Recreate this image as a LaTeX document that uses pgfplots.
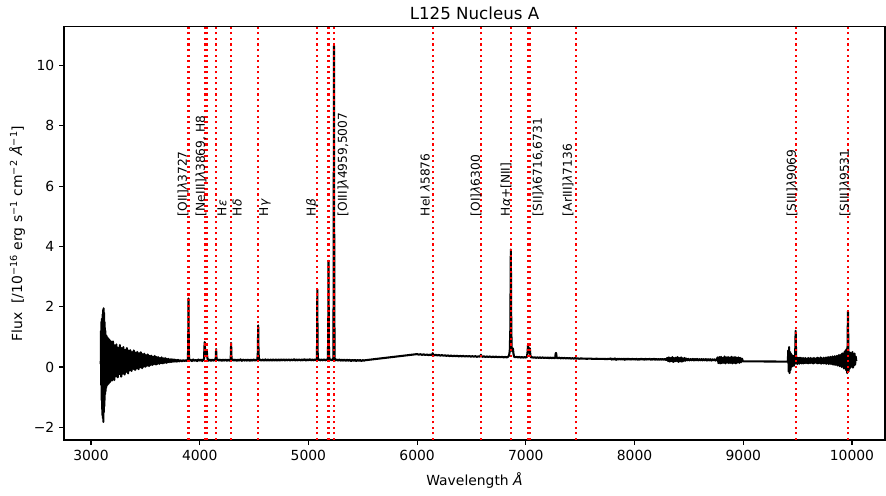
\documentclass[border=0pt]{standalone}
\usepackage{pgfplots}
\pgfplotsset{compat=1.18}
\usepackage{fontspec}
\setmainfont{DejaVu Sans}

\newcommand{\lab}[2]{\node[rotate=90, anchor=west, inner sep=0pt, font=\fontsize{8.8}{10.5}\selectfont] at (axis cs:#1,5) {#2};}

\begin{document}
\begin{tikzpicture}
\path[use as bounding box] (-46.1pt,-39.6pt) rectangle (591.8pt,316.8pt);
\begin{axis}[
  name=ax,
  at={(0,0)}, anchor=south west, scale only axis,
  width=591.1pt, height=297.4pt,
  xmin=2752, xmax=10304, ymin=-2.42, ymax=11.28,
  axis line style={line width=0.8pt},
  tick style={line width=0.8pt, black},
  tick align=outside, major tick length=3.5pt,
  xtick pos=left, ytick pos=left,
  scaled x ticks=false, scaled y ticks=false,
  xtick={3000,4000,5000,6000,7000,8000,9000,10000},
  xticklabels={3000,4000,5000,6000,7000,8000,9000,10000},
  ytick={-2,0,2,4,6,8,10},
  yticklabels={−2,0,2,4,6,8,10},
  ticklabel style={font=\fontsize{10}{12}\selectfont},
  /pgf/number format/assume math mode=true,
  xlabel={Wavelength \textit{Å}},
  xlabel style={at={(axis description cs:0.5,0)}, anchor=center, yshift=-29.5pt, inner sep=0pt, font=\fontsize{10}{12}\selectfont},
  ylabel={Flux\ \ [/10\textsuperscript{−16} erg s\textsuperscript{−1} cm\textsuperscript{−2} \textit{Å}\textsuperscript{−1}]},
  ylabel style={at={(axis description cs:-0.0572,0.5)}, anchor=center, inner sep=0pt, font=\fontsize{10}{12}\selectfont},
]
% spectrum
\addplot[black, line width=1.5pt, line join=round] coordinates {
(3090,0.1) (3092,1.2) (3094,-0.6) (3096,1.5) (3098,-1.1) (3100,1.6) (3102,-1.4) (3104,1.4)
(3106,-1.6) (3108,1.75) (3110,-1.7) (3112,1.9) (3114,-1.82) (3116,1.95) (3118,-1.5) (3120,1.8)
(3122,-1.3) (3124,1.5) (3126,-1.1) (3128,1.3) (3130,-0.9) (3132,1.2) (3134,-0.8) (3136,0.95)
(3138,-0.7) (3140,1.05) (3142,-0.65) (3144,0.9) (3146,-0.55) (3148,1.0) (3150,-0.6) (3153,0.85)
(3156,-0.4) (3159,0.95) (3162,-0.55) (3165,0.7) (3168,-0.3) (3171,0.9) (3174,-0.5) (3177,0.65)
(3180,-0.45) (3183,0.85) (3186,-0.25) (3189,0.7) (3192,-0.45) (3195,0.6) (3198,-0.3)
(3202,0.85) (3206,-0.26) (3210,0.58) (3214,-0.43) (3218,0.72) (3222,-0.14) (3226,0.62) (3230,-0.31)
(3234,0.75) (3238,-0.18) (3242,0.49) (3246,-0.34) (3250,0.64) (3254,-0.13) (3258,0.55) (3262,-0.23)
(3266,0.73) (3270,-0.17) (3274,0.51) (3278,-0.32) (3282,0.63) (3286,-0.08) (3290,0.55) (3294,-0.22)
(3298,0.66) (3302,-0.11) (3306,0.44) (3310,-0.25) (3314,0.57) (3318,-0.08) (3322,0.49) (3326,-0.16)
(3330,0.63) (3334,-0.09) (3338,0.45) (3342,-0.21) (3346,0.55) (3350,-0.01) (3354,0.47) (3358,-0.11)
(3362,0.56) (3366,-0.03) (3370,0.39) (3374,-0.13) (3378,0.5) (3382,0.0) (3386,0.43) (3390,-0.06)
(3394,0.55) (3398,-0.02) (3402,0.4) (3406,-0.1) (3410,0.48) (3414,0.04) (3418,0.43) (3422,-0.05)
(3426,0.5) (3430,0.02) (3434,0.36) (3438,-0.07) (3442,0.45) (3446,0.04) (3450,0.4) (3454,-0.01)
(3458,0.49) (3462,0.03) (3466,0.37) (3470,-0.04) (3474,0.43) (3478,0.07) (3482,0.38) (3486,0.01)
(3490,0.44) (3494,0.06) (3498,0.32) (3502,0.01) (3506,0.39) (3510,0.08) (3514,0.35) (3518,0.05)
(3522,0.42) (3526,0.07) (3530,0.33) (3534,0.03) (3538,0.37) (3542,0.11) (3546,0.34) (3550,0.07)
(3554,0.38) (3558,0.1) (3562,0.29) (3566,0.07) (3570,0.34) (3574,0.12) (3578,0.31) (3582,0.1)
(3586,0.37) (3590,0.11) (3594,0.3) (3598,0.08) (3602,0.33) (3606,0.14) (3610,0.3) (3614,0.11)
(3618,0.33) (3622,0.14) (3626,0.27) (3630,0.11) (3634,0.3) (3638,0.14) (3642,0.28) (3646,0.13)
(3650,0.32) (3654,0.14) (3658,0.27) (3662,0.12) (3666,0.29) (3670,0.16) (3674,0.27) (3678,0.14)
(3682,0.3) (3686,0.16) (3690,0.25) (3694,0.14) (3698,0.27) (3704,0.16)
(3712,0.27) (3718,0.16) (3724,0.25) (3730,0.17)
(3736,0.26) (3742,0.17) (3748,0.25) (3756,0.18) (3764,0.25) (3772,0.18) (3780,0.24) (3790,0.18)
(3800,0.24) (3812,0.19) (3824,0.23) (3836,0.19) (3848,0.23) (3860,0.2) (3872,0.23) (3884,0.2)
(3890,0.22) (3894,0.6) (3897,2.28) (3900,0.5) (3904,0.21)
(3916,0.245) (3928,0.2) (3940,0.25) (3952,0.205) (3964,0.24) (3976,0.2) (3988,0.25) (4000,0.21)
(4012,0.245) (4024,0.2) (4034,0.25) (4040,0.27) (4043,0.6) (4046,0.83) (4049,0.6) (4053,0.4)
(4058,0.36) (4062,0.42) (4066,0.52) (4069,0.35) (4073,0.26) (4080,0.21) (4092,0.25) (4104,0.205)
(4116,0.245) (4128,0.21) (4140,0.25) (4147,0.24) (4149,0.4) (4151,0.6) (4153,0.4) (4156,0.23)
(4166,0.25) (4178,0.21) (4190,0.25) (4202,0.205) (4214,0.245) (4226,0.21) (4238,0.25) (4250,0.205)
(4262,0.245) (4274,0.21) (4284,0.24) (4287,0.45) (4289,0.8) (4291,0.45) (4294,0.22) (4304,0.25)
(4316,0.21) (4328,0.25) (4340,0.205) (4352,0.245) (4364,0.21) (4376,0.255) (4388,0.205) (4400,0.25)
(4412,0.21) (4424,0.245) (4436,0.21) (4448,0.25) (4460,0.205) (4472,0.245) (4484,0.21) (4496,0.25)
(4508,0.215) (4520,0.245) (4530,0.22) (4535,0.5) (4538,1.38) (4541,0.5) (4546,0.23) (4556,0.25)
(4568,0.21) (4580,0.25) (4592,0.21) (4604,0.255) (4616,0.21) (4628,0.25) (4640,0.215) (4652,0.25)
(4664,0.21) (4676,0.255) (4688,0.215) (4700,0.25) (4712,0.21) (4724,0.255) (4736,0.215) (4748,0.25)
(4760,0.22) (4772,0.255) (4784,0.215) (4796,0.25) (4808,0.22) (4820,0.255) (4832,0.215) (4844,0.25)
(4856,0.22) (4868,0.26) (4880,0.215) (4892,0.25) (4904,0.22) (4916,0.255) (4928,0.215) (4940,0.25)
(4952,0.22) (4964,0.26) (4976,0.215) (4988,0.25) (5000,0.22) (5012,0.26) (5024,0.22) (5036,0.25)
(5048,0.22) (5060,0.255) (5070,0.225) (5077,0.25) (5080,0.8) (5082,2.58) (5084,0.7) (5087,0.24)
(5096,0.255) (5108,0.22) (5120,0.25) (5132,0.22) (5144,0.255) (5156,0.22) (5168,0.25) (5178,0.23)
(5182,0.9) (5185,3.52) (5188,0.8) (5192,0.24) (5202,0.255) (5214,0.22) (5224,0.25) (5229,0.3)
(5232,2.6) (5235,10.66) (5238,2.4) (5241,0.3) (5248,0.22) (5260,0.25) (5272,0.215) (5284,0.25)
(5296,0.21) (5308,0.245) (5320,0.21) (5332,0.25) (5344,0.205) (5356,0.245) (5368,0.21) (5380,0.24)
(5392,0.2) (5404,0.24) (5416,0.205) (5428,0.24) (5440,0.2) (5452,0.235) (5464,0.205) (5476,0.235)
(5488,0.2) (5500,0.23) (5512,0.21) (5520,0.225)
(5990,0.425) (6000,0.43) (6015,0.41) (6030,0.425) (6045,0.405) (6060,0.42) (6075,0.4) (6090,0.415)
(6105,0.395) (6120,0.41) (6132,0.395) (6140,0.43) (6143,0.46) (6147,0.42) (6158,0.39) (6172,0.405)
(6186,0.385) (6200,0.4) (6214,0.38) (6228,0.395) (6242,0.375) (6256,0.39) (6270,0.37) (6284,0.385)
(6298,0.365) (6312,0.38) (6326,0.36) (6340,0.375) (6354,0.36) (6368,0.375) (6382,0.355) (6396,0.37)
(6410,0.355) (6424,0.37) (6438,0.35) (6452,0.365) (6466,0.35) (6480,0.365) (6494,0.345) (6508,0.36)
(6522,0.345) (6536,0.36) (6550,0.34) (6564,0.355) (6578,0.345) (6584,0.38) (6587,0.41) (6590,0.37)
(6600,0.34) (6614,0.355) (6628,0.335) (6642,0.35) (6656,0.335) (6670,0.35) (6684,0.33) (6698,0.345)
(6712,0.33) (6726,0.345) (6740,0.325) (6754,0.34) (6768,0.325) (6782,0.34) (6796,0.32) (6810,0.335)
(6824,0.32) (6836,0.34) (6845,0.38) (6852,0.52) (6857,1.2) (6862,3.9) (6866,1.3) (6870,0.6)
(6876,0.52) (6881,0.62) (6886,0.45) (6892,0.34) (6904,0.325) (6916,0.34) (6928,0.32) (6940,0.335)
(6952,0.315) (6964,0.33) (6976,0.315) (6988,0.33) (7000,0.315) (7010,0.34) (7016,0.5) (7020,0.72)
(7024,0.6) (7028,0.48) (7033,0.58) (7037,0.62) (7041,0.42) (7047,0.32) (7058,0.325) (7070,0.31)
(7082,0.325) (7094,0.305) (7106,0.32) (7118,0.305) (7130,0.32) (7142,0.3) (7154,0.32) (7166,0.3)
(7178,0.315) (7190,0.3) (7202,0.315) (7214,0.295) (7226,0.315) (7238,0.295) (7250,0.31) (7262,0.295)
(7270,0.3) (7274,0.44) (7277,0.47) (7280,0.43) (7284,0.3) (7296,0.295) (7308,0.31) (7320,0.29)
(7332,0.305) (7344,0.29) (7356,0.305) (7368,0.285) (7380,0.3) (7392,0.285) (7404,0.3) (7416,0.28)
(7428,0.295) (7440,0.28) (7452,0.295) (7464,0.28) (7476,0.29) (7490,0.275) (7505,0.285)
(7530,0.28) (7560,0.275) (7590,0.28) (7620,0.27) (7650,0.275) (7680,0.27) (7710,0.27) (7740,0.265)
(7770,0.27) (7780,0.285) (7790,0.245) (7800,0.28) (7810,0.25) (7820,0.285) (7830,0.24) (7840,0.275)
(7850,0.25) (7860,0.28) (7870,0.245) (7880,0.275) (7890,0.25) (7900,0.28) (7910,0.24) (7920,0.275)
(7930,0.245) (7940,0.28) (7950,0.25) (7960,0.27) (7970,0.245) (7980,0.275) (7990,0.25) (8000,0.27)
(8010,0.245) (8020,0.275) (8030,0.24) (8040,0.27) (8050,0.245) (8060,0.275) (8070,0.25) (8080,0.27)
(8090,0.24) (8100,0.275) (8110,0.245) (8120,0.27) (8130,0.25) (8140,0.275) (8150,0.24) (8160,0.27)
(8170,0.245) (8180,0.275) (8190,0.24) (8200,0.27) (8210,0.245) (8220,0.265) (8230,0.24) (8240,0.27)
(8250,0.245) (8260,0.265) (8270,0.24) (8280,0.27) (8290,0.235)
(8300,0.3) (8308,0.2) (8316,0.32) (8324,0.18) (8332,0.3) (8340,0.2) (8348,0.33) (8356,0.17)
(8364,0.3) (8372,0.19) (8380,0.31) (8388,0.2) (8396,0.33) (8404,0.17) (8412,0.3) (8420,0.19)
(8428,0.32) (8436,0.18) (8444,0.29) (8452,0.2) (8460,0.3) (8468,0.21) (8476,0.28)
(8486,0.225) (8496,0.27) (8506,0.22) (8516,0.265) (8526,0.225) (8536,0.27) (8546,0.22) (8556,0.265)
(8566,0.225) (8576,0.27) (8586,0.22) (8596,0.26) (8606,0.225) (8616,0.265) (8626,0.22) (8636,0.26)
(8646,0.225) (8656,0.265) (8666,0.215) (8676,0.26) (8686,0.22) (8696,0.26) (8706,0.215) (8716,0.255)
(8726,0.22) (8736,0.255) (8746,0.215) (8756,0.26)
(8764,0.32) (8772,0.13) (8780,0.33) (8788,0.12) (8796,0.34) (8804,0.13) (8812,0.3) (8820,0.14)
(8828,0.35) (8836,0.12) (8844,0.32) (8852,0.15) (8860,0.33) (8868,0.13) (8876,0.31) (8884,0.14)
(8892,0.34) (8900,0.12) (8908,0.32) (8916,0.14) (8924,0.33) (8932,0.12) (8940,0.31) (8948,0.15)
(8956,0.32) (8964,0.14) (8972,0.3) (8980,0.16) (8988,0.28) (8996,0.2) (9000,0.19)
(9410,0.18)
(9414,0.55) (9418,-0.15) (9422,0.66) (9426,-0.2) (9430,0.5) (9434,-0.1) (9438,0.45) (9442,0.0)
(9446,0.4) (9450,0.02) (9454,0.38) (9458,0.05) (9462,0.36) (9466,0.04) (9470,0.38) (9474,0.1)
(9478,0.5) (9480,0.9) (9482,1.2) (9484,0.8) (9487,0.2) (9491,0.32) (9496,0.1) (9501,0.3)
(9506,0.12) (9511,0.3) (9516,0.11) (9521,0.31) (9526,0.14) (9531,0.3) (9536,0.12) (9541,0.29)
(9546,0.13) (9551,0.3) (9556,0.12) (9561,0.28) (9566,0.14) (9571,0.3) (9576,0.13) (9581,0.27)
(9586,0.14) (9591,0.29) (9596,0.12) (9601,0.3) (9606,0.14) (9611,0.28) (9616,0.13) (9621,0.3)
(9626,0.15) (9631,0.27) (9636,0.13) (9641,0.29) (9646,0.12) (9651,0.3) (9656,0.14) (9661,0.27)
(9666,0.15) (9671,0.29) (9676,0.13) (9681,0.31) (9686,0.12) (9691,0.3) (9696,0.14) (9701,0.28)
(9706,0.13) (9711,0.32) (9716,0.11) (9721,0.3) (9726,0.14) (9731,0.28) (9736,0.12) (9741,0.31)
(9746,0.13) (9751,0.29) (9756,0.12) (9761,0.32) (9766,0.11) (9771,0.3) (9776,0.13) (9781,0.33)
(9786,0.1) (9791,0.31) (9796,0.12) (9801,0.34) (9806,0.1) (9811,0.3) (9816,0.11) (9821,0.35)
(9826,0.08) (9831,0.33) (9836,0.1) (9841,0.36) (9846,0.07) (9851,0.34) (9856,0.09) (9861,0.37)
(9866,0.05) (9871,0.35) (9876,0.07) (9881,0.4) (9886,0.03) (9891,0.38) (9896,0.05) (9901,0.42)
(9906,0.0) (9911,0.45) (9916,0.02) (9921,0.43) (9926,-0.05) (9931,0.5) (9936,0.0) (9941,0.55)
(9946,-0.1) (9951,0.6) (9956,-0.2) (9960,0.9) (9963,1.85) (9966,0.9) (9969,-0.15) (9974,0.5)
(9979,-0.05) (9984,0.48) (9989,0.0) (9994,0.45) (9999,0.02) (10004,0.5) (10009,-0.02) (10014,0.42)
(10019,0.05) (10024,0.45) (10029,0.08) (10034,0.35) (10040,0.2)
};
% emission line markers
\pgfplotsinvokeforeach{3897,4045,4066,4151,4289,4538,5082,5185,5235,6143,6587,6862,7022,7037,7461,9482,9965}{
  \addplot[red, line width=1.5pt, dash pattern=on 1.5pt off 2.5pt] coordinates {(#1,-2.42) (#1,11.28)};
}
\lab{3847}{[OII]\textit{λ}3727}
\lab{4012}{[NeIII]\textit{λ}3869, H8}
\lab{4205}{H\textit{ε}}
\lab{4344}{H\textit{δ}}
\lab{4601}{H\textit{γ}}
\lab{5034}{H\textit{β}}
\lab{5319}{[OIII]\textit{λ}4959,5007}
\lab{6073}{HeI \textit{λ}5876}
\lab{6542}{[OI]\textit{λ}6300}
\lab{6818}{H\textit{α}+[NII]}
\lab{7113}{[SII]\textit{λ}6716,6731}
\lab{7389}{[ArIII]\textit{λ}7136}
\lab{9449}{[SIII]\textit{λ}9069}
\lab{9937}{[SIII]\textit{λ}9531}
\end{axis}
\node[font=\fontsize{12}{14}\selectfont, inner sep=0pt] at (295.55pt,307.2pt) {L125 Nucleus A};
\end{tikzpicture}
\end{document}
